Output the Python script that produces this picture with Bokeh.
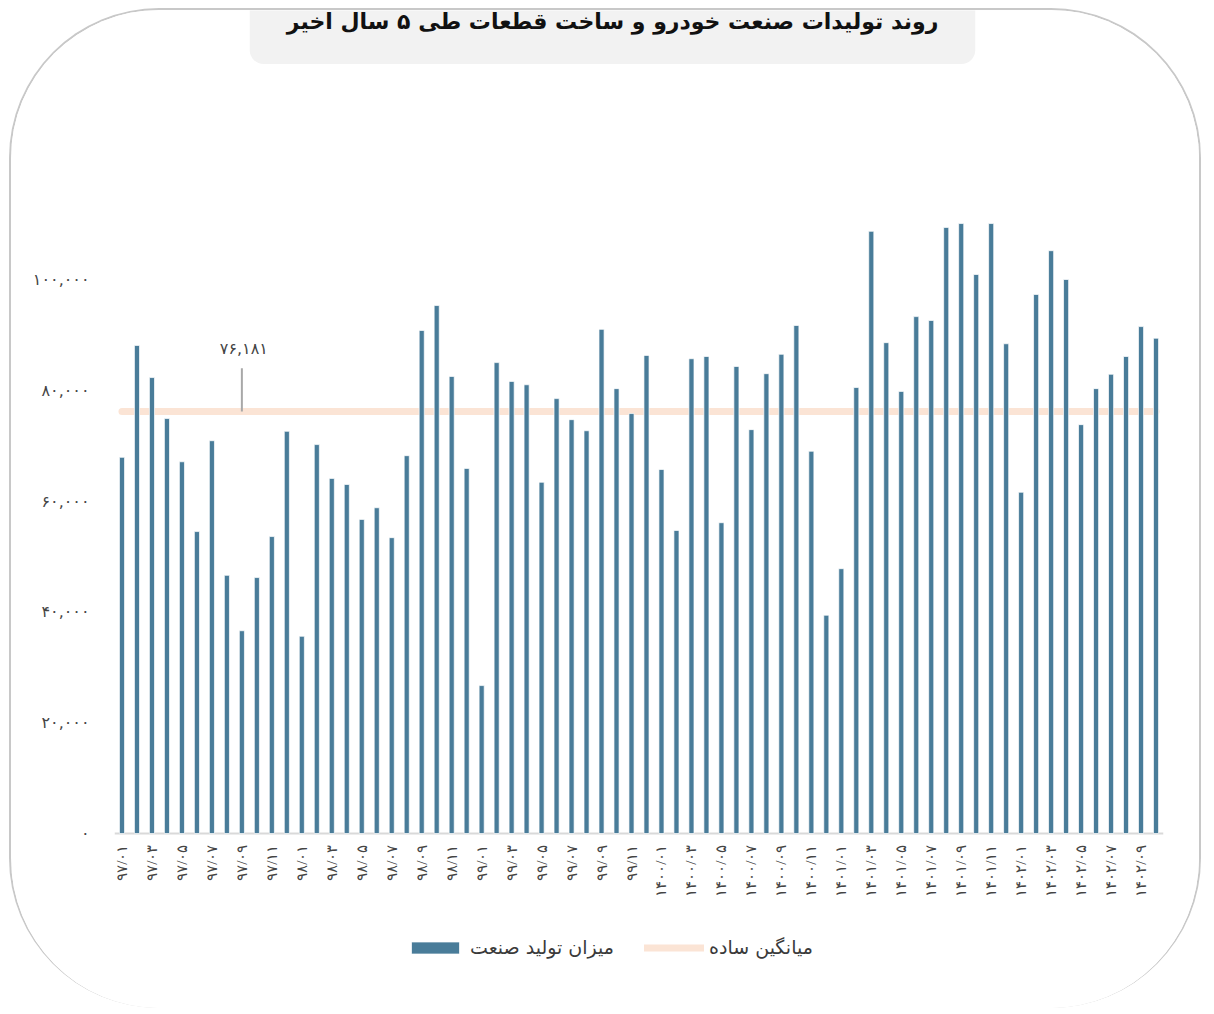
import math
from bokeh.plotting import figure
from bokeh.models import Range1d, FixedTicker, Legend, LegendItem, Label
from bokeh.embed import file_html
from bokeh.resources import INLINE

# ---------------- data ----------------
TITLE = "روند تولیدات صنعت خودرو و ساخت قطعات طی ۵ سال اخیر"
SERIES_BAR = "میزان تولید صنعت"
SERIES_AVG = "میانگین ساده"

MONTHS = [
    "۹۷/۰۱", "۹۷/۰۲", "۹۷/۰۳", "۹۷/۰۴", "۹۷/۰۵", "۹۷/۰۶", "۹۷/۰۷", "۹۷/۰۸", "۹۷/۰۹", "۹۷/۱۰", "۹۷/۱۱", "۹۷/۱۲",
    "۹۸/۰۱", "۹۸/۰۲", "۹۸/۰۳", "۹۸/۰۴", "۹۸/۰۵", "۹۸/۰۶", "۹۸/۰۷", "۹۸/۰۸", "۹۸/۰۹", "۹۸/۱۰", "۹۸/۱۱", "۹۸/۱۲",
    "۹۹/۰۱", "۹۹/۰۲", "۹۹/۰۳", "۹۹/۰۴", "۹۹/۰۵", "۹۹/۰۶", "۹۹/۰۷", "۹۹/۰۸", "۹۹/۰۹", "۹۹/۱۰", "۹۹/۱۱", "۹۹/۱۲",
    "۱۴۰۰/۰۱", "۱۴۰۰/۰۲", "۱۴۰۰/۰۳", "۱۴۰۰/۰۴", "۱۴۰۰/۰۵", "۱۴۰۰/۰۶", "۱۴۰۰/۰۷", "۱۴۰۰/۰۸", "۱۴۰۰/۰۹", "۱۴۰۰/۱۰", "۱۴۰۰/۱۱", "۱۴۰۰/۱۲",
    "۱۴۰۱/۰۱", "۱۴۰۱/۰۲", "۱۴۰۱/۰۳", "۱۴۰۱/۰۴", "۱۴۰۱/۰۵", "۱۴۰۱/۰۶", "۱۴۰۱/۰۷", "۱۴۰۱/۰۸", "۱۴۰۱/۰۹", "۱۴۰۱/۱۰", "۱۴۰۱/۱۱", "۱۴۰۱/۱۲",
    "۱۴۰۲/۰۱", "۱۴۰۲/۰۲", "۱۴۰۲/۰۳", "۱۴۰۲/۰۴", "۱۴۰۲/۰۵", "۱۴۰۲/۰۶", "۱۴۰۲/۰۷", "۱۴۰۲/۰۸", "۱۴۰۲/۰۹", "۱۴۰۲/۱۰",
]

PRODUCTION = [
    67900, 88100, 82300, 74900, 67100, 54500, 70900, 46600, 36600, 46200,
    53600, 72600, 35600, 70200, 64100, 63000, 56700, 58800, 53400, 68200,
    90800, 95300, 82500, 65900, 26700, 85000, 81600, 81000, 63400, 78500,
    74700, 72700, 91000, 80300, 75800, 86300, 65700, 54700, 85700, 86100,
    56100, 84300, 72900, 83000, 86500, 91700, 69000, 39400, 47800, 80500,
    108700, 88600, 79800, 93300, 92600, 109400, 110100, 100900, 110100, 88400,
    61600, 97300, 105200, 100000, 73800, 80300, 82900, 86100, 91500, 89400,
]

AVERAGE = 76181
AVERAGE_LABEL = "۷۶,۱۸۱"
ANNOT_INDEX = 8

Y_TICKS = [0, 20000, 40000, 60000, 80000, 100000]
Y_TICK_LABELS = ["۰", "۲۰,۰۰۰", "۴۰,۰۰۰", "۶۰,۰۰۰", "۸۰,۰۰۰", "۱۰۰,۰۰۰"]

# ---------------- figure ----------------
FONT = "DejaVu Sans"
idx = list(range(len(PRODUCTION)))
x_lo, x_hi = -0.5, len(PRODUCTION) - 0.5

p = figure(
    width=1192, height=1000,
    output_backend="svg", toolbar_location=None,
    x_range=Range1d(x_lo, x_hi),
    y_range=Range1d(-31949, 148556),
    x_axis_location=None,
    min_border_left=103, min_border_right=40,
    min_border_top=0, min_border_bottom=0,
    outline_line_color=None,
    background_fill_color="white", border_fill_color="white",
    styles={
        "margin-left": "9px",
        "margin-top": "8px",
        "border": "2px solid #c8c8c8",
        "border-bottom-width": "0px",
        "border-radius": "150px",
        "overflow": "hidden",
    },
)
p.title.visible = False
p.xgrid.visible = False
p.ygrid.visible = False

# x axis baseline
p.segment(x0=[x_lo], y0=[0], x1=[x_hi], y1=[0], line_color="#d9d9d9", line_width=2)

# x tick labels (every second month), vertical, reading bottom-to-top
p.text(x=idx[::2], y=[0] * len(idx[::2]), text=MONTHS[::2],
       angle=math.pi / 2, text_align="right", text_baseline="middle",
       y_offset=11, text_font=FONT, text_font_size="15px", text_color="#444444")

# average line
avg = p.line(x=[idx[0], idx[-1]], y=[AVERAGE, AVERAGE],
             line_color="#fbe4d5", line_width=7, line_cap="round")

# callout leader
p.segment(x0=[ANNOT_INDEX], y0=[AVERAGE], x1=[ANNOT_INDEX], y1=[AVERAGE + 7800],
          line_color="#a8a8a8", line_width=2)

# bars
bars = p.vbar(x=idx, top=PRODUCTION, width=0.34,
              fill_color="#497c99", line_color="white", line_alpha=0.7, line_width=1)

p.add_layout(Label(x=ANNOT_INDEX, y=AVERAGE, x_offset=2, y_offset=63,
                   text=AVERAGE_LABEL, text_align="center", text_baseline="middle",
                   text_font=FONT, text_font_size="16px", text_color="#444444"))

# title box (padding order: left, right, top, bottom)
p.add_layout(Label(
    x=498, y=984, x_units="screen", y_units="screen",
    text=TITLE, text_align="center", text_baseline="middle",
    text_font=FONT, text_font_style="bold", text_font_size="22px", text_color="#111111",
    background_fill_color="#f2f2f2",
    padding=(37, 37, 20, 30), border_radius=(0, 0, 14, 14),
))

# y axis
ya = p.yaxis[0]
ya.ticker = FixedTicker(ticks=Y_TICKS)
ya.major_label_overrides = {t: l for t, l in zip(Y_TICKS, Y_TICK_LABELS)}
ya.axis_line_color = None
ya.major_tick_line_color = None
ya.minor_tick_line_color = None
ya.major_tick_out = 0
ya.major_tick_in = 0
ya.major_label_standoff = 25
ya.major_label_text_font = FONT
ya.major_label_text_font_size = "16px"
ya.major_label_text_color = "#444444"

# legend
legend = Legend(
    items=[LegendItem(label=SERIES_BAR, renderers=[bars]),
           LegendItem(label=SERIES_AVG, renderers=[avg])],
    orientation="horizontal", location=(291, 52),
    glyph_width=60, glyph_height=15, label_height=22, label_standoff=5,
    spacing=30, padding=0, margin=0,
    border_line_color=None, background_fill_alpha=0,
    label_text_font=FONT, label_text_font_size="19px", label_text_color="#3a3a3a",
)
p.add_layout(legend)

open("out.html", "w").write(file_html(p, INLINE))
